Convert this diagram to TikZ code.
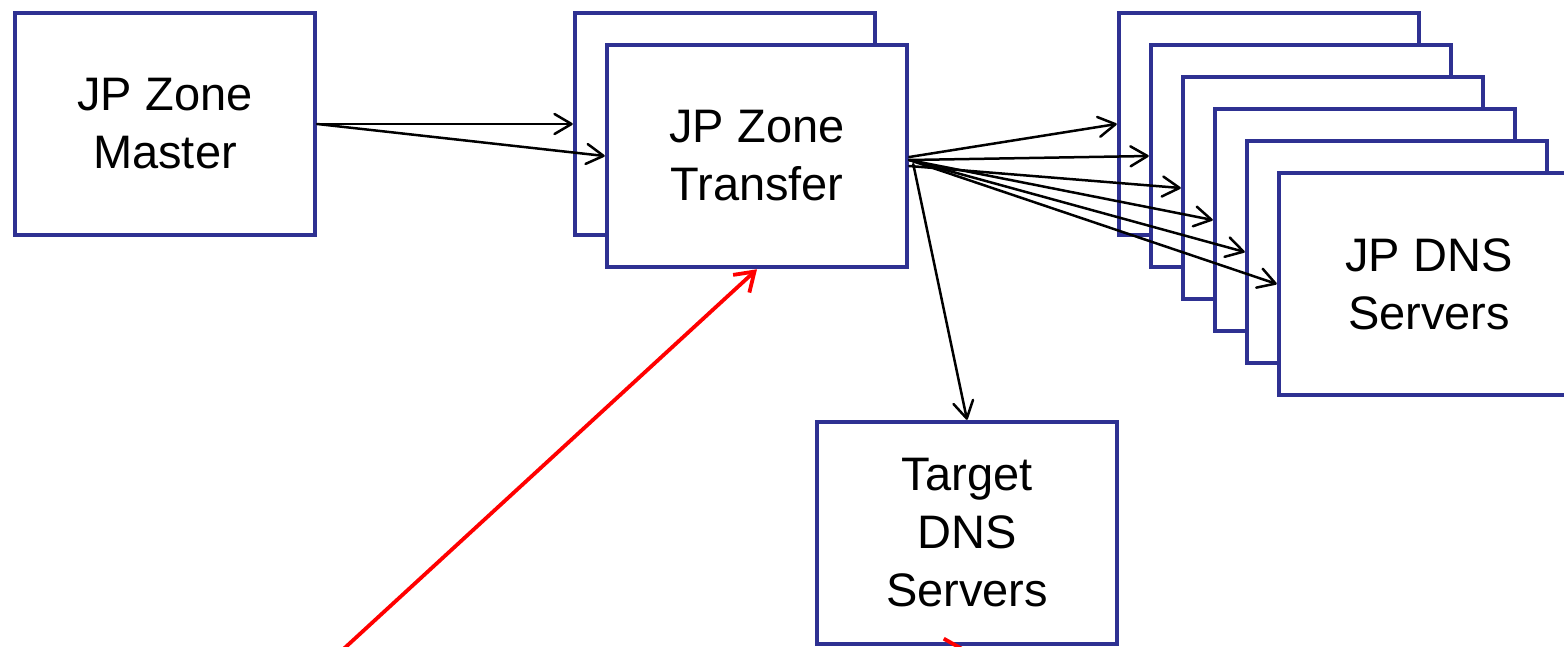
\documentclass[tikz,border=0pt]{standalone}
\usepackage{fontspec}
\setmainfont{Liberation Sans}
\usetikzlibrary{arrows.meta}
\definecolor{boxblue}{RGB}{46,49,146}
\definecolor{linkred}{RGB}{255,0,0}
\begin{document}
\begin{tikzpicture}[x=1pt,y=-1pt,
  unit/.style={draw=boxblue, line width=4.5pt, fill=white, minimum width=300pt,
    minimum height=222pt, inner sep=0pt, align=center,
    font=\fontsize{47}{58}\selectfont},
  feed/.style={draw=black, line width=2.5pt, line cap=round,
    -{Straight Barb[length=17pt,width=20pt,round]}},
  attack/.style={draw=linkred, line width=3.8pt,
    -{Straight Barb[length=18pt,width=24pt]}}]
\useasboundingbox (0,0) rectangle (1564,646);
\clip (0,0) rectangle (1564,646);

% zone master
\node[unit] (m) at (165,124) {JP Zone\\Master};

% transfer servers (two stacked)
\node[unit] (tb) at (725,124) {};
\node[unit] (tf) at (757,156) {JP Zone\\Transfer};

% stack of public DNS servers
\node[unit] (d1) at (1269,124) {};
\node[unit] (d2) at (1301,156) {};
\node[unit] (d3) at (1333,188) {};
\node[unit] (d4) at (1365,220) {};
\node[unit] (d5) at (1397,252) {};
\node[unit] (d6) at (1429,284) {JP DNS\\Servers};

% target servers
\node[unit] (tt) at (967,533) {Target\\DNS\\Servers};

% zone transfers
\draw[feed] (m.east) -- (tb.west);
\draw[feed] (m.east) -- (tf.west);
\draw[feed] ([yshift=-1pt]tf.east) -- (d1.west);
\draw[feed] ([yshift=-4pt]tf.east) -- (d2.west);
\draw[feed] ([yshift=-10pt]tf.east) -- (d3.west);
\draw[feed] ([yshift=-4pt]tf.east) -- (d4.west);
\draw[feed] ([yshift=-4pt]tf.east) -- (d5.west);
\draw[feed] ([yshift=-4pt]tf.east) -- (d6.west);
\draw[feed] ([xshift=4pt,yshift=-8pt]tf.east) -- (tt.north);

% attacker below the frame
\coordinate (atk) at (288,700);
\coordinate (hit) at (966,649);
\draw[attack] (atk) -- (tf.south);
\draw[attack] (atk) -- (hit);
\end{tikzpicture}
\end{document}
